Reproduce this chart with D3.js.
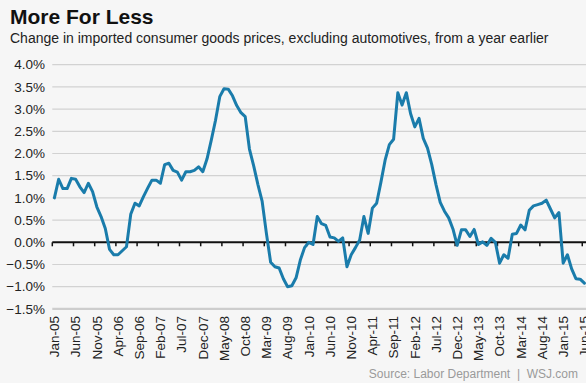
<!DOCTYPE html>
<html>
<head>
<meta charset="utf-8">
<script src="https://cdn.jsdelivr.net/npm/d3@7"></script>
<style>
  html, body { margin: 0; padding: 0; background: #f6f6f6; }
  svg { display: block; font-family: "Liberation Sans", Arial, Helvetica, sans-serif; }
</style>
</head>
<body>
<svg id="chart" width="586" height="383"></svg>
<script>
// Year-over-year change in imported consumer goods prices (ex autos), monthly Jan-05 .. Jun-15, in percent
const values = [
  1.00, 1.42, 1.21, 1.21, 1.44, 1.42, 1.25, 1.12, 1.33, 1.14, 0.80, 0.58,
  0.31, -0.16, -0.28, -0.28, -0.19, -0.10, 0.63, 0.88, 0.82, 1.03, 1.22, 1.40,
  1.40, 1.33, 1.75, 1.78, 1.62, 1.58, 1.40, 1.59, 1.59, 1.62, 1.70, 1.59,
  1.88, 2.30, 2.75, 3.28, 3.46, 3.45, 3.30, 3.08, 2.92, 2.83, 2.10, 1.72,
  1.30, 0.92, 0.20, -0.45, -0.55, -0.58, -0.82, -1.00, -0.98, -0.80, -0.40, -0.12,
  0.00, -0.05, 0.58, 0.42, 0.38, 0.12, 0.10, 0.02, 0.10, -0.55, -0.28, -0.12,
  0.05, 0.58, 0.20, 0.77, 0.88, 1.35, 1.85, 2.20, 2.32, 3.37, 3.09, 3.37,
  2.90, 2.60, 2.79, 2.34, 2.12, 1.75, 1.30, 0.90, 0.70, 0.55, 0.30, -0.07,
  0.28, 0.28, 0.13, 0.29, -0.05, 0.01, -0.07, 0.09, 0.00, -0.47, -0.28, -0.36,
  0.18, 0.20, 0.39, 0.28, 0.72, 0.82, 0.85, 0.88, 0.95, 0.75, 0.55, 0.67,
  -0.47, -0.28, -0.60, -0.82, -0.83, -0.92
];

// Month categories, Jan 2005 through Jun 2015
const fmtMonth = d3.timeFormat("%b-%y");
const months = d3.timeMonths(new Date(2005, 0, 1), new Date(2015, 6, 1)).map(fmtMonth);

// Labelled months along the bottom (every fifth month)
const tickLabels = [
  "Jan-05", "Jun-05", "Nov-05", "Apr-06", "Sep-06", "Feb-07", "Jul-07", "Dec-07",
  "May-08", "Oct-08", "Mar-09", "Aug-09", "Jan-10", "Jun-10", "Nov-10", "Apr-11",
  "Sep-11", "Feb-12", "Jul-12", "Dec-12", "May-13", "Oct-13", "Mar-14", "Aug-14",
  "Jan-15", "Jun-15"
];

// Gridline values, percent
const yTicks = [-1.5, -1.0, -0.5, 0.0, 0.5, 1.0, 1.5, 2.0, 2.5, 3.0, 3.5, 4.0];

const title = "More For Less";
const subtitle = "Change in imported consumer goods prices, excluding automotives, from a year earlier";
const source = "Source: Labor Department  |  WSJ.com";

const svg = d3.select("#chart");
const W = 586, H = 383;

svg.append("rect").attr("width", W).attr("height", H).attr("fill", "#f6f6f6");

const plotLeft = 52.3, plotRight = 586.5;
const x = d3.scaleBand().domain(months).range([plotLeft, plotRight]).padding(0);
const y = d3.scaleLinear().domain([-1.5, 4.0]).range([308.9, 64.7]);
const bw = x.bandwidth();
const cx = m => x(m) + bw / 2;

// Title block
svg.append("text").attr("x", 10).attr("y", 24)
  .attr("font-size", 21).attr("font-weight", "bold").attr("fill", "#111")
  .text(title);
svg.append("text").attr("x", 10).attr("y", 43)
  .attr("font-size", 14).attr("fill", "#222")
  .text(subtitle);

// Horizontal gridlines
svg.append("g").selectAll("line").data(yTicks.filter(v => v !== 0 && v !== -1.5)).join("line")
  .attr("x1", plotLeft).attr("x2", W)
  .attr("y1", d => y(d)).attr("y2", d => y(d))
  .attr("stroke", "#d2d2d2").attr("stroke-width", 1.2);

// Bottom baseline
svg.append("line")
  .attr("x1", plotLeft).attr("x2", W)
  .attr("y1", y(-1.5)).attr("y2", y(-1.5))
  .attr("stroke", "#cdcdcd").attr("stroke-width", 2.2);

// Y-axis labels
const fmtPct = d3.format(".1%");
svg.append("g").selectAll("text").data(yTicks).join("text")
  .attr("x", 45).attr("y", d => y(d)).attr("dy", "0.35em")
  .attr("text-anchor", "end").attr("font-size", 13.5).attr("fill", "#222")
  .text(d => fmtPct(d / 100));

// Zero line with category tick marks
const xAxis = d3.axisBottom(x)
  .tickValues(tickLabels)
  .tickSize(4)
  .tickSizeOuter(0)
  .tickFormat("");
const axisG = svg.append("g").attr("transform", `translate(0,${y(0)})`).call(xAxis);
axisG.select(".domain").attr("stroke", "#111").attr("stroke-width", 2)
  .attr("d", `M${plotLeft},0H${W}`);
axisG.selectAll(".tick").attr("transform", d => `translate(${x(d)},0)`);
axisG.selectAll(".tick line").attr("stroke", "#111").attr("stroke-width", 1.5);

// Rotated month labels under the plot
svg.append("g").selectAll("text").data(tickLabels).join("text")
  .attr("transform", d => `translate(${cx(d)},316) rotate(-90)`)
  .attr("dy", "0.35em").attr("text-anchor", "end")
  .attr("font-size", 13.5).attr("fill", "#222")
  .text(d => d);

// Data line
const line = d3.line()
  .x((d, i) => cx(months[i]))
  .y(d => y(d));
svg.append("path").datum(values)
  .attr("d", line)
  .attr("fill", "none")
  .attr("stroke", "#1a7cab")
  .attr("stroke-width", 3)
  .attr("stroke-linejoin", "round")
  .attr("stroke-linecap", "round");

// Source note
svg.append("text").attr("x", 578).attr("y", 378)
  .attr("text-anchor", "end").attr("font-size", 12).attr("fill", "#9a9a9a")
  .attr("xml:space", "preserve")
  .text(source);
</script>
</body>
</html>
